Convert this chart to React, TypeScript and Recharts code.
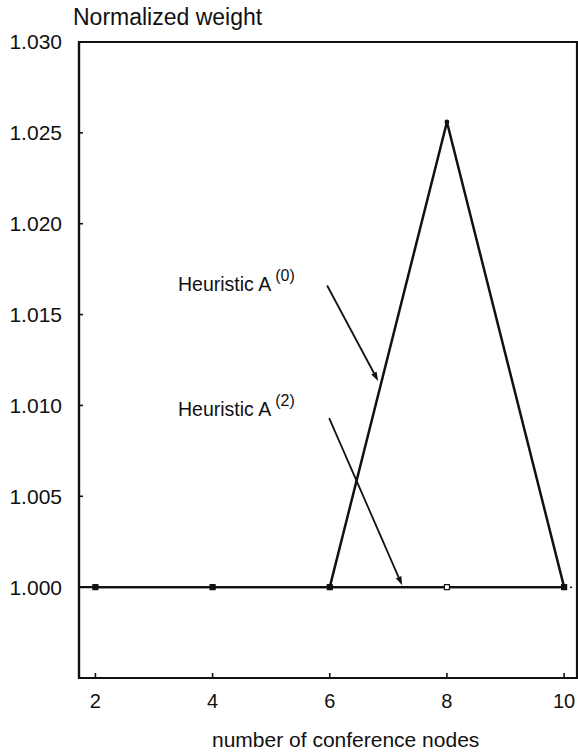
import React from 'react';
import {
  LineChart,
  Line,
  XAxis,
  YAxis,
  ReferenceLine,
  ReferenceArea,
  ReferenceDot,
} from 'recharts';

// values
const nodes = [2, 4, 6, 8, 10];
const heuristicA2 = [1.0, 1.0, 1.0, 1.0, 1.0];
const nodesA0 = [6, 8, 10];
const heuristicA0 = [1.0, 1.0256, 1.0];
const yTicks = [1.0, 1.005, 1.01, 1.015, 1.02, 1.025, 1.03];

const X_DOMAIN: [number, number] = [1.72, 10.22];
const Y_DOMAIN: [number, number] = [0.995, 1.03];

const dataA2 = nodes.map((n, i) => ({ n, w: heuristicA2[i] }));
const dataA0 = nodesA0.map((n, i) => ({ n, w: heuristicA0[i] }));

// annotation labels and their arrows (data coordinates)
const notes = [
  { label: 'Heuristic A', sup: '(0)', at: [3.41, 1.0163], from: [5.955, 1.0166], to: [6.826, 1.01135] },
  { label: 'Heuristic A', sup: '(2)', at: [3.41, 1.0094], from: [5.99, 1.0093], to: [7.236, 1.0001] },
];

const FONT = '"Liberation Sans", Arial, Helvetica, sans-serif';

function SquareDot(props: any) {
  const { cx, cy, index } = props;
  if (cx == null || cy == null) return null;
  const hollow = index === 3;
  return (
    <rect
      key={`sq-${index}`}
      x={cx - 2.5}
      y={cy - 2.5}
      width={5}
      height={5}
      fill={hollow ? '#fff' : '#111'}
      stroke="#111"
      strokeWidth={1.2}
    />
  );
}

function PeakDot(props: any) {
  const { cx, cy, index } = props;
  if (cx == null || cy == null) return null;
  return <circle key={`pk-${index}`} cx={cx} cy={cy} r={index === 1 ? 2.4 : 0} fill="#111" />;
}

function Arrow(props: any) {
  const { x1, y1, x2, y2 } = props;
  if ([x1, y1, x2, y2].some((v) => v == null || isNaN(v))) return null;
  const ang = Math.atan2(y2 - y1, x2 - x1);
  const len = 9;
  const w = 3;
  const bx = x2 - len * Math.cos(ang);
  const by = y2 - len * Math.sin(ang);
  const px = -Math.sin(ang) * w;
  const py = Math.cos(ang) * w;
  return (
    <g>
      <line x1={x1} y1={y1} x2={bx} y2={by} stroke="#111" strokeWidth={1.8} />
      <polygon points={`${x2},${y2} ${bx + px},${by + py} ${bx - px},${by - py}`} fill="#111" />
    </g>
  );
}

export default function App() {
  return (
    <div style={{ width: 578, height: 753, background: '#fff', fontFamily: FONT }}>
      <style>{'body{margin:0}'}</style>
      <LineChart width={578} height={753} margin={{ top: 42, right: 1, bottom: 0, left: 0 }}>
        <XAxis
          dataKey="n"
          type="number"
          domain={X_DOMAIN}
          ticks={nodes}
          allowDataOverflow
          height={75}
          axisLine={{ stroke: '#111', strokeWidth: 2.2 }}
          tickLine={{ stroke: '#111', strokeWidth: 1.6 }}
          tickSize={-5}
          tickMargin={21}
          tick={{ fill: '#111', fontSize: 20, fontFamily: FONT }}
          label={{
            content: () => (
              <text x={212} y={747} fontSize={21} fontFamily={FONT} fill="#111">
                number of conference nodes
              </text>
            ),
          }}
        />
        <YAxis
          type="number"
          domain={Y_DOMAIN}
          ticks={yTicks}
          allowDataOverflow
          width={79}
          axisLine={{ stroke: '#111', strokeWidth: 2.2 }}
          tickLine={{ stroke: '#111', strokeWidth: 1.6 }}
          tickSize={-4}
          tickMargin={21}
          tickFormatter={(v: number) => v.toFixed(3)}
          tick={{ fill: '#111', fontSize: 21, fontFamily: FONT }}
          label={{
            content: () => (
              <text x={73} y={25} fontSize={23} fontFamily={FONT} fill="#111">
                Normalized weight
              </text>
            ),
          }}
        />
        <ReferenceArea
          x1={X_DOMAIN[0]}
          x2={X_DOMAIN[1]}
          y1={Y_DOMAIN[0]}
          y2={Y_DOMAIN[1]}
          fill="none"
          stroke="#111"
          strokeWidth={2.2}
          ifOverflow="visible"
        />
        <ReferenceLine
          segment={[
            { x: X_DOMAIN[0], y: 1.0 },
            { x: 10, y: 1.0 },
          ]}
          stroke="#111"
          strokeWidth={2.2}
        />
        <ReferenceLine
          segment={[
            { x: 10, y: 1.0 },
            { x: X_DOMAIN[1], y: 1.0 },
          ]}
          stroke="#111"
          strokeWidth={1.5}
          strokeDasharray="2 4"
        />
        <Line
          data={dataA2}
          dataKey="w"
          stroke="#111"
          strokeWidth={2.2}
          dot={<SquareDot />}
          activeDot={false}
          isAnimationActive={false}
        />
        <Line
          data={dataA0}
          dataKey="w"
          stroke="#111"
          strokeWidth={2.5}
          dot={<PeakDot />}
          activeDot={false}
          isAnimationActive={false}
        />
        {notes.map((n, i) => (
          <ReferenceLine
            key={`arrow-${i}`}
            segment={[
              { x: n.from[0], y: n.from[1] },
              { x: n.to[0], y: n.to[1] },
            ]}
            shape={<Arrow />}
          />
        ))}
        {notes.map((n, i) => (
          <ReferenceDot
            key={`note-${i}`}
            x={n.at[0]}
            y={n.at[1]}
            r={0}
            shape={(p: any) => (
              <text x={p.cx} y={p.cy} fontSize={19.5} fontFamily={FONT} fill="#111">
                {n.label}
                <tspan dx={4} dy={-10} fontSize={16}>
                  {n.sup}
                </tspan>
              </text>
            )}
          />
        ))}
      </LineChart>
    </div>
  );
}
